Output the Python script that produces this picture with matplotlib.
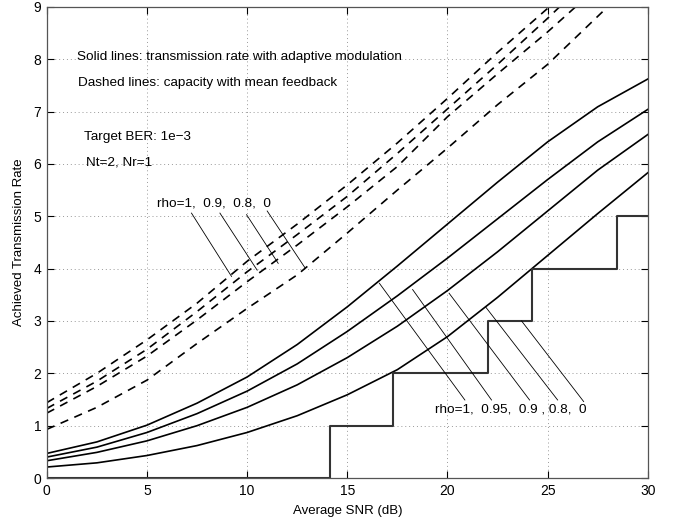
import matplotlib
matplotlib.use('Agg')
import matplotlib.pyplot as plt

plt.rcParams['font.family'] = ['Liberation Sans', 'DejaVu Sans']

# SNR grid (dB)
snr = [0, 2.5, 5, 7.5, 10, 12.5, 15, 17.5, 20, 22.5, 25, 27.5, 30]

# Solid lines: rate with adaptive modulation (rho = 1, 0.95, 0.9, 0.8)
rate_1 = [0.47, 0.69, 1.01, 1.43, 1.93, 2.55, 3.27, 4.05, 4.85, 5.65, 6.42, 7.09, 7.62]
rate_095 = [0.40, 0.59, 0.87, 1.23, 1.66, 2.18, 2.80, 3.48, 4.20, 4.95, 5.70, 6.42, 7.04]
rate_09 = [0.33, 0.49, 0.71, 1.00, 1.35, 1.78, 2.30, 2.90, 3.58, 4.32, 5.10, 5.88, 6.56]
rate_08 = [0.21, 0.29, 0.43, 0.62, 0.87, 1.19, 1.59, 2.07, 2.70, 3.45, 4.25, 5.05, 5.83]

# Dashed lines: capacity with mean feedback (rho = 1, 0.9, 0.8, 0)
snr_cap = [0, 2.5, 5, 7.5, 10, 12.5, 15, 17.5, 20, 22.5, 25]
cap_1 = [1.44, 2.00, 2.64, 3.34, 4.14, 4.85, 5.60, 6.40, 7.25, 8.13, 8.97]
cap_09 = [1.33, 1.85, 2.46, 3.18, 3.94, 4.65, 5.38, 6.20, 7.05, 7.90, 8.78]
cap_08 = [1.24, 1.75, 2.33, 3.02, 3.75, 4.45, 5.18, 5.95, 6.90, 7.72, 8.52]
cap_0 = [0.93, 1.35, 1.87, 2.57, 3.24, 3.88, 4.68, 5.50, 6.30, 7.13, 7.90]
cap_end_x = [25.1, 25.6, 26.4, 28.0]   # where each dashed curve leaves the top
cap_end_y = [9.0, 9.0, 9.0, 9.0]

# Staircase (rho = 0)
step_x = [0, 14.15, 17.3, 22.0, 24.2, 28.45, 30]
step_y = [0, 1, 2, 3, 4, 5, 5]

fig = plt.figure(figsize=(6.79, 5.23), dpi=100)
ax = fig.add_axes([0.069, 0.086, 0.885, 0.901])

for r in [rate_1, rate_095, rate_09, rate_08]:
    ax.plot(snr, r, color='black', linewidth=1.2)

caps = [cap_1, cap_09, cap_08, cap_0]
for c, ex, ey in zip(caps, cap_end_x, cap_end_y):
    ax.plot(snr_cap + [ex], c + [ey], color='black', linewidth=1.2, linestyle=(0, (5, 4)))

ax.step(step_x, step_y, where='post', color='#333333', linewidth=1.5)

# leader lines for the labels
leaders_cap = [((7.22, 5.06), (9.22, 3.85)), ((8.64, 5.06), (10.5, 3.97)),
               ((9.97, 5.03), (11.55, 4.10)), ((11.0, 5.10), (12.88, 4.02))]
leaders_rate = [((20.87, 1.49), (16.6, 3.72)), ((22.2, 1.49), (18.26, 3.60)),
                ((24.1, 1.49), (20.08, 3.53)), ((25.5, 1.49), (21.92, 3.26)),
                ((26.8, 1.46), (23.7, 3.0))]
for (p0, p1) in leaders_cap + leaders_rate:
    ax.plot([p0[0], p1[0]], [p0[1], p1[1]], color='black', linewidth=0.6)

fs = 9.7
ax.text(5.49, 5.25, 'rho=1,  0.9,  0.8,  0', fontsize=fs, va='center', ha='left')
ax.text(19.37, 1.30, 'rho=1,  0.95,  0.9 , 0.8,  0', fontsize=fs, va='center', ha='left')

ax.text(1.5, 8.05, 'Solid lines: transmission rate with adaptive modulation', fontsize=fs, va='center')
ax.text(1.55, 7.55, 'Dashed lines: capacity with mean feedback', fontsize=fs, va='center')
ax.text(1.85, 6.52, 'Target BER: 1e\u22123', fontsize=fs, va='center')
ax.text(1.95, 6.02, 'Nt=2, Nr=1', fontsize=fs, va='center')

ax.set_xlim(0, 30)
ax.set_ylim(0, 9)
ax.set_xticks([0, 5, 10, 15, 20, 25, 30])
ax.set_yticks(range(0, 10))
ax.grid(True, color='#999999', linestyle=(0, (1, 3)), linewidth=0.7)
ax.tick_params(direction='in', top=True, right=True, length=5, labelsize=10, pad=4)
for s in ax.spines.values():
    s.set_color('#555555')
    s.set_linewidth(0.9)

ax.set_xlabel('Average SNR (dB)', fontsize=9.5, labelpad=5)
ax.set_ylabel('Achieved Transmission Rate', fontsize=9.5, labelpad=6)

plt.savefig('out.png', dpi=100)
